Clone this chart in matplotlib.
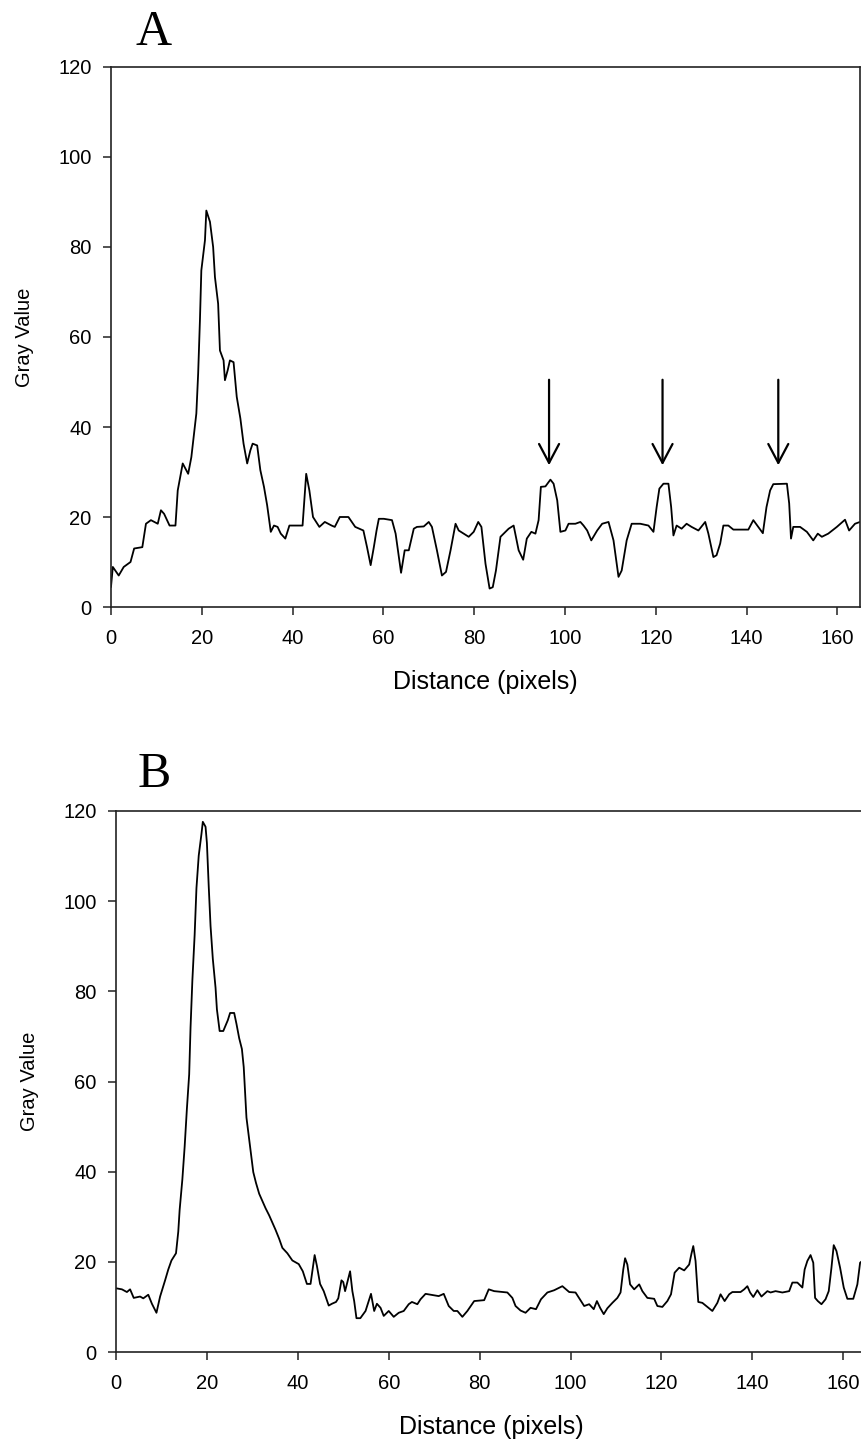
import matplotlib
matplotlib.use("Agg")
import matplotlib.pyplot as plt

plt.rcParams['font.family'] = ['Liberation Sans', 'DejaVu Sans']

# profile A (distance in pixels, gray value)
dist_a = [0, 0.4, 1.7, 2.8, 4.3, 5.1, 6.9, 7.7, 8.8, 10.3, 11.0, 11.7, 12.9, 14.2,
          14.7, 15.8, 17.0, 17.7, 18.8, 19.2, 19.6, 19.9, 20.7, 21.0, 21.8, 22.5,
          22.9, 23.6, 24.0, 24.8, 25.1, 25.7, 26.2, 27.0, 27.7, 28.5, 29.2, 30.0,
          30.7, 31.2, 32.2, 32.9, 33.7, 34.4, 35.2, 35.9, 36.7, 37.4, 38.4, 39.3,
          42.2, 43.0, 43.7, 44.5, 45.9, 47.1, 48.6, 49.3, 50.4, 52.3, 53.8, 55.6,
          56.4, 57.2, 57.9, 58.5, 59.0, 60.1, 61.9, 62.7, 63.9, 64.7, 65.6, 66.7,
          67.4, 68.9, 70.0, 70.7, 71.8, 72.9, 73.8, 74.8, 75.9, 76.6, 78.8, 79.9,
          80.9, 81.6, 82.5, 83.4, 84.1, 84.8, 85.8, 86.5, 87.6, 88.7, 89.8, 90.8,
          91.6, 92.6, 93.5, 94.2, 94.7, 95.7, 96.8, 97.5, 98.3, 99.0, 100.1, 100.8,
          102.3, 103.4, 104.1, 104.9, 105.8, 107.1, 108.2, 109.6, 110.7, 111.8,
          112.5, 113.6, 114.7, 116.6, 118.4, 119.5, 120.2, 120.8, 121.7, 122.8,
          123.4, 123.9, 124.6, 125.7, 126.8, 127.9, 129.4, 130.9, 131.6, 132.7,
          133.4, 134.2, 134.9, 136.0, 137.1, 140.4, 141.5, 142.6, 143.6, 144.4,
          145.2, 145.9, 148.9, 149.4, 149.8, 150.3, 151.8, 153.3, 154.7, 155.7,
          156.6, 158.0, 159.9, 161.7, 162.6, 163.9, 165.0]
gray_a = [4.5, 8.9, 7.0, 8.9, 10.0, 13.0, 13.3, 18.5, 19.3, 18.5, 21.5, 20.7, 18.1, 18.1,
          25.9, 31.9, 29.6, 33.3, 43.0, 51.9, 64.0, 74.8, 81.5, 88.1, 85.6, 80.0,
          73.3, 67.4, 57.0, 54.8, 50.4, 52.6, 54.8, 54.4, 46.7, 41.9, 36.3, 31.9,
          34.8, 36.3, 35.9, 30.4, 26.7, 22.6, 16.7, 18.1, 17.8, 16.3, 15.2, 18.1,
          18.1, 29.6, 25.9, 20.0, 17.8, 18.9, 18.1, 17.8, 20.0, 20.0, 17.8, 17.0,
          13.3, 9.3, 13.3, 17.0, 19.6, 19.6, 19.3, 16.3, 7.6, 12.6, 12.6, 17.4,
          17.8, 17.9, 18.9, 17.8, 12.6, 7.0, 7.8, 12.6, 18.5, 17.0, 15.6, 16.7,
          18.9, 17.8, 9.6, 4.1, 4.4, 8.1, 15.6, 16.3, 17.4, 18.1, 12.6, 10.5,
          15.2, 16.7, 16.3, 19.3, 26.7, 26.8, 28.3, 27.4, 23.7, 16.7, 17.0, 18.5,
          18.5, 18.9, 18.1, 17.0, 14.8, 17.0, 18.5, 18.9, 14.8, 6.7,
          8.1, 14.8, 18.5, 18.5, 18.1, 16.7, 22.2, 26.3, 27.4, 27.4,
          22.2, 15.9, 18.1, 17.4, 18.5, 17.8, 17.0, 18.9, 16.3, 11.1,
          11.5, 14.1, 18.1, 18.1, 17.2, 17.2, 19.3, 17.8, 16.4, 22.2,
          25.9, 27.3, 27.4, 23.0, 15.2, 17.8, 17.8, 16.7, 14.8, 16.3,
          15.6, 16.3, 17.8, 19.4, 17.0, 18.5, 18.9]

# profile B
dist_b = [0.2, 1.3, 2.4, 3.1, 3.9, 5.3, 6.0, 7.1, 7.9, 8.9, 9.7, 10.8, 11.5, 12.2,
          13.2, 13.7, 14.0, 14.6, 15.1, 15.6, 16.1, 16.4, 16.8, 17.3, 17.7, 18.2,
          18.8, 19.1, 19.7, 20.0, 20.4, 20.8, 21.3, 21.9, 22.2, 22.8, 23.6, 24.6,
          25.1, 26.0, 26.5, 27.1, 27.7, 28.1, 28.4, 28.7, 29.2, 29.7, 30.2, 30.8,
          31.5, 32.2, 32.9, 33.7, 34.4, 35.1, 35.9, 36.6, 37.7, 38.8, 40.2, 41.1,
          42.0, 42.8, 43.3, 43.7, 44.2, 44.9, 45.7, 46.8, 47.5, 48.4, 48.9, 49.6,
          50.0, 50.4, 51.0, 51.5, 52.0, 52.4, 52.9, 53.75, 54.9, 55.6, 56.1, 56.8,
          57.4, 58.2, 58.9, 60.0, 61.1, 62.2, 63.3, 64.4, 65.1, 66.3, 67.0, 68.1,
          71.0, 72.1, 73.2, 74.3, 75.1, 76.2, 77.3, 78.8, 81.0, 82.0, 83.2, 86.1,
          87.2, 87.9, 89.0, 90.1, 91.2, 92.4, 93.5, 94.9, 96.4, 98.2, 99.7, 101.1,
          102.3, 103.0, 104.1, 105.1, 105.8, 106.5, 107.3, 108.1, 109.2, 110.3,
          111.0, 111.6, 112.0, 112.5, 113.1, 114.0, 115.1, 115.8, 116.9, 118.4,
          119.1, 120.2, 121.3, 122.1, 122.9, 123.9, 125.0, 126.1, 126.6, 127.0,
          127.5, 128.1, 129.0, 130.1, 131.2, 132.3, 133.0, 133.9, 134.9, 135.6,
          137.4, 138.2, 138.9, 139.5, 140.2, 141.1, 142.0, 143.3, 144.0, 145.1,
          146.6, 148.1, 148.8, 149.9, 151.0, 151.5, 152.1, 152.8, 153.4, 153.8,
          154.4, 155.2, 156.1, 156.8, 157.4, 157.9, 158.5, 159.3, 160.1, 160.9,
          162.2, 163.1, 163.7, 164.3, 165.5]
gray_b = [14.1, 13.9, 13.3, 13.9, 12.0, 12.3, 11.9, 12.7, 10.7, 8.7, 12.3, 15.9, 18.3, 20.3,
          21.9, 26.7, 31.5, 38.3, 45.5, 54.0, 61.6, 72.0, 82.4, 92.5, 102.9, 110.1,
          114.9, 117.6, 116.5, 112.9, 103.3, 94.5, 87.2, 80.8, 76.0, 71.2, 71.2, 73.6,
          75.2, 75.2, 72.8, 69.6, 67.2, 63.2, 57.6, 52.0, 48.0, 43.9, 39.9, 37.5,
          35.1, 33.5, 31.9, 30.3, 28.7, 27.1, 25.1, 23.1, 21.9, 20.3, 19.5, 17.9,
          15.1, 15.1, 18.7, 21.5, 19.1, 15.1, 13.5, 10.3, 10.7, 11.1, 11.9, 15.9,
          15.5, 13.5, 15.9, 17.9, 13.5, 11.3, 7.5, 7.5, 9.1, 11.3, 12.9, 9.1,
          10.7, 9.8, 8.0, 9.1, 7.8, 8.7, 9.1, 10.6, 11.1, 10.6, 11.7, 12.9,
          12.4, 12.9, 10.2, 9.1, 9.1, 7.8, 9.1, 11.3, 11.5, 13.9, 13.5, 13.2,
          12.0, 10.2, 9.2, 8.7, 9.8, 9.5, 11.7, 13.2, 13.7, 14.6, 13.3, 13.2,
          11.3, 10.2, 10.6, 9.5, 11.3, 9.8, 8.4, 9.7, 10.9, 12.0,
          13.2, 18.3, 20.8, 19.4, 15.0, 13.9, 15.0, 13.5, 12.0, 11.8,
          10.2, 10.0, 11.3, 12.8, 17.6, 18.7, 18.1, 19.4, 21.8, 23.5,
          20.2, 11.1, 10.9, 10.0, 9.1, 10.9, 12.8, 11.3, 12.8, 13.3,
          13.3, 13.9, 14.6, 13.2, 12.2, 13.7, 12.3, 13.5, 13.2, 13.5,
          13.2, 13.5, 15.4, 15.4, 14.3, 18.3, 20.2, 21.5, 19.8, 12.0,
          11.3, 10.6, 11.7, 13.5, 18.7, 23.7, 22.4, 18.7, 14.3, 11.8,
          11.8, 15.0, 19.8, 20.3, 20.6]

# arrows marking the peaks in A
arrow_x = [96.5, 121.5, 147.0]
arrow_top = 50.5
arrow_tip = 31.5

x_ticks = [0, 20, 40, 60, 80, 100, 120, 140, 160]
y_ticks = [0, 20, 40, 60, 80, 100, 120]

W, H = 862, 1443
fig = plt.figure(figsize=(W / 100, H / 100), dpi=100)

# axes boxes in pixels: left, top, right, bottom
boxes = [(111, 67, 860, 607), (116, 811, 866, 1352)]
axes = []
for (l, t, r, b) in boxes:
    ax = fig.add_axes([l / W, 1 - b / H, (r - l) / W, (b - t) / H])
    axes.append(ax)

for ax, xs, ys in zip(axes, [dist_a, dist_b], [gray_a, gray_b]):
    ax.plot(xs, ys, color='black', lw=1.3)
    ax.set_xlim(0, 165)
    ax.set_ylim(0, 120)
    ax.set_xticks(x_ticks)
    ax.set_yticks(y_ticks)
    ax.tick_params(direction='out', length=5.5, width=1.1, color='#222222',
                   labelsize=14.5)
    ax.tick_params(axis='x', pad=10)
    ax.tick_params(axis='y', pad=8.5)
    for s in ax.spines.values():
        s.set_linewidth(1.2)
        s.set_color('#222222')
    ax.set_xlabel('Distance (pixels)', fontsize=18)
    ax.set_ylabel('Gray Value', fontsize=14.5)
    ax.yaxis.set_label_coords(-0.103, 0.5)
    ax.xaxis.set_label_coords(0.5, -0.117)

for xa in arrow_x:
    axes[0].annotate('', xy=(xa, arrow_tip), xytext=(xa, arrow_top),
                     arrowprops=dict(arrowstyle='->,head_length=0.68,head_width=0.36',
                                     color='black', lw=1.6, mutation_scale=20,
                                     shrinkA=0, shrinkB=0))

fig.text(154 / W, 1 - 33 / H, 'A', fontsize=36, family='Liberation Serif',
         ha='center', va='center')
fig.text(154 / W, 1 - 775 / H, 'B', fontsize=36, family='Liberation Serif',
         ha='center', va='center')

fig.savefig('out.png', dpi=100)
